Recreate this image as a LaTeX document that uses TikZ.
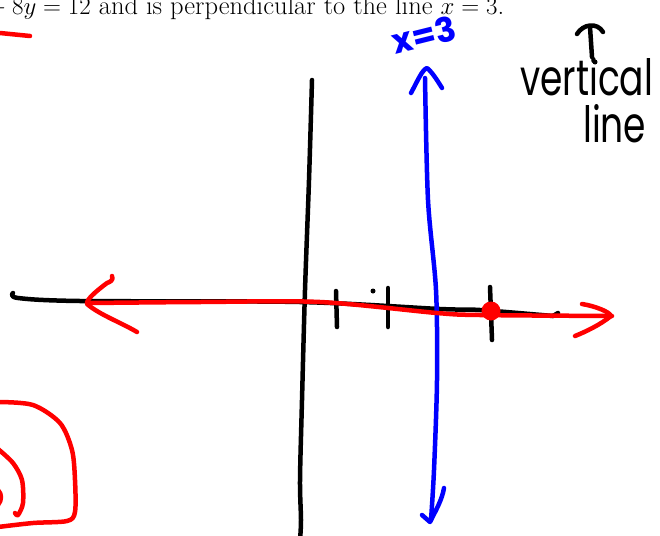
\documentclass[tikz,border=0pt]{standalone}
\usepackage{fontspec}
\newfontfamily\hand{Poppins}
\begin{document}
\begin{tikzpicture}[x=1pt,y=-1pt,line cap=round,line join=round,
  pen/.style={line width=4.5pt},
  blackpen/.style={pen,black},
  redpen/.style={pen,red},
  bluepen/.style={pen,blue},
  handtext/.style={inner sep=0pt,anchor=base west}]
\useasboundingbox (0,0) rectangle (660,535);
\clip (0,0) rectangle (660,535);
% header text
\node[inner sep=0pt,anchor=base west,font=\fontsize{26.5}{32}\selectfont] (hdr) at (-18.5,15)
  {${}-8y = 12$ and is perpendicular to the line $x = 3$.};
% red top-left stroke
\draw[redpen] (0,33) -- (30,36);
% black y-axis
\draw[blackpen] plot[smooth] coordinates {(312,80) (309,180) (305,290) (302,400) (300,480) (301,520) (300,540)};
% black x-axis
\draw[blackpen] plot[smooth] coordinates {(13,293) (18,298) (80,301) (300,302) (440,309) (480,310) (553,316)};
\draw[blackpen] (553,316) -- (558,313);
% ticks
\draw[blackpen] (336,291) -- (337,327);
\draw[blackpen] (388,288) -- (388,327);
\fill[black] (373,291) circle (2.5);
\draw[blackpen] (490,287) -- (492,340);
% blue vertical line with arrows
\draw[bluepen] plot[smooth] coordinates {(425,78) (428,200) (436,290) (437,380) (434,470) (431,520)};
\draw[bluepen] (411,93) .. controls (418,80) and (422,70) .. (427,68) .. controls (432,72) and (437,80) .. (442,88);
\draw[bluepen] (422,515) -- (430,522) .. controls (436,510) and (442,500) .. (444,488);
% red line with arrows
\draw[redpen] plot[smooth] coordinates {(90,303) (200,302) (320,302) (437,313) (480,315) (612,316)};
\draw[redpen] (112,276) .. controls (114,280) and (110,282) .. (107,283) .. controls (95,292) and (86,300) .. (87,304) .. controls (100,315) and (120,322) .. (137,332);
\draw[redpen] (582,304) .. controls (595,306) and (610,312) .. (611,316) .. controls (600,325) and (585,332) .. (575,336);
\fill[red] (491,311) circle (9.5);
% red shapes lower-left
\draw[redpen] plot[smooth] coordinates {(-2,402) (33,405) (60,423) (72,450) (75,480) (75,512) (67,521) (33,523) (-2,527)};
\draw[redpen] plot[smooth] coordinates {(-2,449) (13,463) (22,480) (23,503) (18,515) (15,513)};
\draw[redpen] (-2,490) .. controls (2,494) and (2,500) .. (-2,505);
% blue label
\node[text=blue,inner sep=0pt,rotate=14,font=\hand\bfseries\fontsize{34}{34}\selectfont] (xeq) at (424,35) {x=3};
% T arrow
\draw[blackpen] (577,34) .. controls (583,24) and (597,22) .. (603,32);
\draw[blackpen] (590,27) -- (592,57);
\fill[black] (595,62) circle (2.5);
% vertical line label
\node[handtext,font=\hand\fontsize{50}{50}\selectfont] (vert) at (520,95) {\scalebox{0.72}[1]{vertical}};
\node[handtext,font=\hand\fontsize{50}{50}\selectfont] (line) at (583,142) {\scalebox{0.72}[1]{line}};
\end{tikzpicture}
\end{document}
